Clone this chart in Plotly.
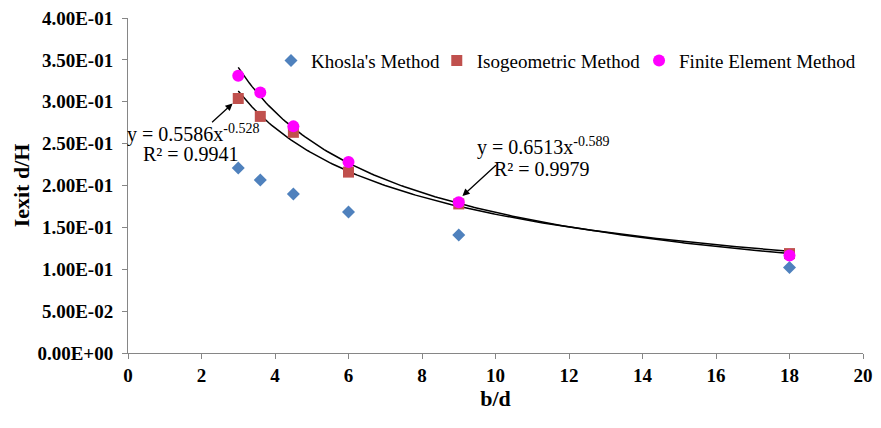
import numpy as np
import plotly.graph_objects as go

b_d = [3, 3.6, 4.5, 6, 9, 18]
khosla = [0.2208, 0.2065, 0.190, 0.1685, 0.141, 0.102]
isogeo = [0.3039, 0.2825, 0.2635, 0.216, 0.178, 0.1187]
fem = [0.331, 0.311, 0.2706, 0.228, 0.180, 0.1163]

# power trendlines (coefficients as printed on the chart)
iso_a, iso_b = 0.5586, -0.528
fem_a, fem_b = 0.6513, -0.589

xticks = list(range(0, 21, 2))
yticks = [0, 0.05, 0.1, 0.15, 0.2, 0.25, 0.3, 0.35, 0.4]
ytick_text = ["0.00E+00", "5.00E-02", "1.00E-01", "1.50E-01", "2.00E-01",
              "2.50E-01", "3.00E-01", "3.50E-01", "4.00E-01"]

FONT = "Liberation Serif"

xt = np.linspace(min(b_d), max(b_d), 200)

fig = go.Figure()
fig.add_trace(go.Scatter(x=xt, y=iso_a * xt ** iso_b, mode="lines",
                         line=dict(color="black", width=1.5), showlegend=False, hoverinfo="skip"))
fig.add_trace(go.Scatter(x=xt, y=fem_a * xt ** fem_b, mode="lines",
                         line=dict(color="black", width=1.5), showlegend=False, hoverinfo="skip"))
fig.add_trace(go.Scatter(x=b_d, y=khosla, mode="markers", name="Khosla's Method", legend="legend",
                         marker=dict(symbol="diamond", size=10, color="#4F81BD")))
fig.add_trace(go.Scatter(x=b_d, y=isogeo, mode="markers", name="Isogeometric Method", legend="legend2",
                         marker=dict(symbol="square", size=11, color="#C0504D")))
fig.add_trace(go.Scatter(x=b_d, y=fem, mode="markers", name="Finite Element Method", legend="legend3",
                         marker=dict(symbol="circle", size=12, color="#FF00FF")))

axis_common = dict(showgrid=False, zeroline=False, showline=True, linecolor="#868686",
                   linewidth=1, ticks="outside", ticklen=5, tickcolor="#868686",
                   ticklabeloverflow="allow",
                   tickfont=dict(family=FONT, size=19, color="black"))

fig.update_xaxes(range=[0, 20], tickvals=xticks,
                 ticktext=["<b>%d</b>" % v for v in xticks],
                 title=dict(text="<b>b/d</b>", font=dict(family=FONT, size=22, color="black"), standoff=4),
                 **axis_common)
fig.update_yaxes(range=[0, 0.4], tickvals=yticks,
                 ticktext=["<b>%s</b>" % t for t in ytick_text],
                 ticklabelstandoff=5,
                 title=dict(text="<b>Iexit d/H</b>", font=dict(family=FONT, size=22, color="black"), standoff=1),
                 **axis_common)

# arrows
for (tx, ty, ax_, ay_) in [(2.846, 0.2979, -22, 20), (9.10, 0.1875, 35, -32)]:
    fig.add_annotation(x=tx, y=ty, xref="x", yref="y", text="", showarrow=True,
                       ax=ax_, ay=ay_, arrowhead=2, arrowsize=1.1, arrowwidth=1.3,
                       arrowcolor="black", standoff=0)

labels = [
    (1.758, 0.2623, "y = 0.5586x<sup>-0.528</sup>"),
    (1.72, 0.2374, "R² = 0.9941"),
    (11.29, 0.2469, "y = 0.6513x<sup>-0.589</sup>"),
    (11.275, 0.2196, "R² = 0.9979"),
]
for (lx, ly, txt) in labels:
    fig.add_annotation(x=lx, y=ly, xref="x", yref="y", xanchor="center", yanchor="middle",
                       text=txt, showarrow=False, font=dict(family=FONT, size=20, color="black"))

leg_common = dict(orientation="h", yanchor="middle", y=0.8725, xanchor="left",
                  font=dict(family=FONT, size=19, color="black"), bgcolor="rgba(0,0,0,0)")

fig.update_layout(
    width=881, height=428,
    margin=dict(l=128, r=8, t=16, b=75),
    paper_bgcolor="white", plot_bgcolor="white",
    font=dict(family=FONT, color="black"),
    legend=dict(x=0.1946, **leg_common),
    legend2=dict(x=0.4201, **leg_common),
    legend3=dict(x=0.6953, **leg_common),
)

fig.write_html("out.html")
